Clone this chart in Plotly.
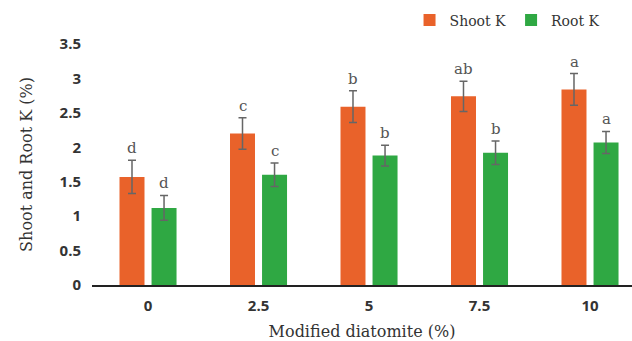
import plotly.graph_objects as go

categories = ["0", "2.5", "5", "7.5", "10"]
shoot_k = [1.57, 2.20, 2.59, 2.74, 2.84]
shoot_err = [0.24, 0.23, 0.23, 0.22, 0.23]
root_k = [1.12, 1.60, 1.88, 1.92, 2.07]
root_err = [0.18, 0.17, 0.15, 0.17, 0.16]
shoot_letters = ["d", "c", "b", "ab", "a"]
root_letters = ["d", "c", "b", "b", "a"]

serif = "DejaVu Serif"
fig = go.Figure()
fig.add_trace(go.Bar(
    name="Shoot K", x=categories, y=shoot_k,
    marker=dict(color="#E9622A", line=dict(width=0)),
    error_y=dict(type="data", array=shoot_err, color="#666666", thickness=1.5, width=4),
))
fig.add_trace(go.Bar(
    name="Root K", x=categories, y=root_k,
    marker=dict(color="#2FA843", line=dict(width=0)),
    error_y=dict(type="data", array=root_err, color="#666666", thickness=1.5, width=4),
))

for i, c in enumerate(categories):
    fig.add_annotation(x=i, y=shoot_k[i] + shoot_err[i], text=shoot_letters[i],
                       xshift=-16, yshift=12, showarrow=False,
                       font=dict(family=serif, size=15, color="#555555"))
    fig.add_annotation(x=i, y=root_k[i] + root_err[i], text=root_letters[i],
                       xshift=16, yshift=12, showarrow=False,
                       font=dict(family=serif, size=15, color="#555555"))

fig.update_layout(
    width=632, height=341,
    margin=dict(l=92, r=0, t=44, b=56, autoexpand=False),
    paper_bgcolor="white", plot_bgcolor="white",
    barmode="group", bargap=0.42, bargroupgap=0.22,
    showlegend=True,
    legend=dict(orientation="h", x=0.648, y=0.94, xref="container", yref="container",
                xanchor="left", yanchor="middle", tracegroupgap=0,
                font=dict(family=serif, size=14, color="#333333"),
                itemwidth=30, bgcolor="rgba(0,0,0,0)"),
    xaxis=dict(type="category", range=[-0.507, 4.38], showline=True, linecolor="#222222",
               linewidth=1.5, ticks="", showgrid=False, automargin=False,
               ticklabelstandoff=6,
               tickfont=dict(family="Open Sans", size=15, color="#333333", weight="bold"),
               title=dict(text="Modified diatomite (%)", font=dict(family=serif, size=16, color="#333333"),
                          standoff=16)),
    yaxis=dict(range=[0, 3.5], dtick=0.5, showgrid=False, showline=False, zeroline=False,
               automargin=False,
               tickfont=dict(family="Open Sans", size=15, color="#333333", weight="bold"),
               ticklabelstandoff=10,
               title=dict(text="Shoot and Root K (%)", font=dict(family=serif, size=16, color="#333333"),
                          standoff=22)),
)

fig.write_html("out.html", config={"displayModeBar": False},
               post_script="document.body.style.margin='0px';document.body.style.overflow='hidden';")
